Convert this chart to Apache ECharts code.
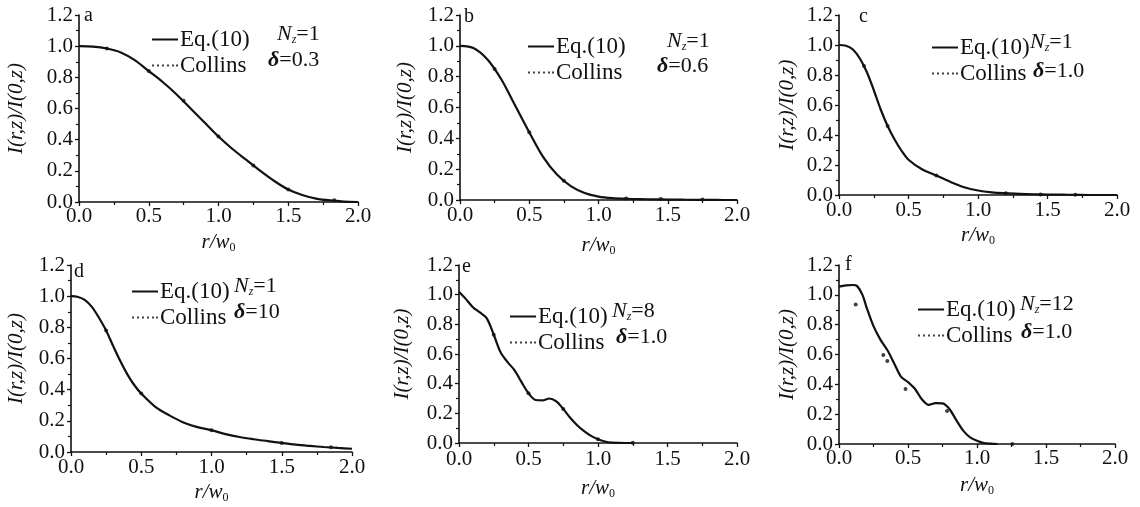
<!DOCTYPE html>
<html>
<head>
<meta charset="utf-8">
<script src="https://cdn.jsdelivr.net/npm/echarts@6/dist/echarts.min.js"></script>
<style>html,body{margin:0;padding:0;background:#fff;}#c{width:1140px;height:507px;}</style>
</head>
<body>
<div id="c"></div>
<script>
// ---- data ----
var panelLetters = ['a', 'b', 'c', 'd', 'e', 'f'];
var nzValues = ['1', '1', '1', '1', '8', '12'];
var deltaValues = ['0.3', '0.6', '1.0', '10', '1.0', '1.0'];
var xTicks = [0, 0.5, 1.0, 1.5, 2.0];
var yTicks = [0, 0.2, 0.4, 0.6, 0.8, 1.0, 1.2];

var rA = [0,0.1,0.2,0.3,0.4,0.5,0.6,0.7,0.8,0.9,1.0,1.1,1.2,1.3,1.4,1.5,1.6,1.7,1.8,1.9,2.0];
var eqA = [1.0,0.997,0.985,0.96,0.91,0.84,0.77,0.69,0.60,0.51,0.42,0.34,0.27,0.20,0.135,0.08,0.045,0.022,0.01,0.003,0.0];
var colA = [[0.2,0.985],[0.5,0.84],[0.75,0.65],[1.0,0.42],[1.25,0.235],[1.5,0.08],[1.83,0.012]];

var rB = [0,0.1,0.2,0.3,0.4,0.5,0.6,0.7,0.8,0.9,1.0,1.1,1.2,1.3,1.4,1.5,1.6,1.7,1.8,1.9,2.0];
var eqB = [1.0,0.985,0.91,0.78,0.61,0.44,0.28,0.165,0.09,0.045,0.022,0.012,0.008,0.006,0.004,0.003,0.002,0.001,0.001,0.0,0.0];
var colB = [[0.25,0.85],[0.5,0.44],[0.75,0.125],[1.2,0.01],[1.45,0.006],[1.75,0.003]];

var rC = [0,0.05,0.1,0.15,0.2,0.25,0.3,0.35,0.4,0.45,0.5,0.6,0.7,0.8,0.9,1.0,1.1,1.2,1.3,1.4,1.5,1.6,1.7,1.8,2.0];
var eqC = [1.0,0.995,0.97,0.91,0.82,0.70,0.57,0.46,0.37,0.295,0.235,0.17,0.13,0.088,0.052,0.03,0.018,0.012,0.008,0.005,0.003,0.002,0.001,0.0,0.0];
var colC = [[0.18,0.86],[0.35,0.46],[0.7,0.13],[1.2,0.012],[1.45,0.004],[1.7,0.002]];

var rD = [0,0.05,0.1,0.15,0.2,0.25,0.3,0.35,0.4,0.45,0.5,0.6,0.7,0.8,0.9,1.0,1.1,1.2,1.3,1.4,1.5,1.6,1.7,1.8,1.9,2.0];
var eqD = [1.0,0.995,0.975,0.93,0.86,0.78,0.68,0.585,0.50,0.43,0.375,0.29,0.235,0.19,0.16,0.14,0.115,0.096,0.082,0.07,0.058,0.047,0.039,0.032,0.026,0.021];
var colD = [[0.25,0.78],[0.5,0.375],[1.0,0.14],[1.5,0.058],[1.85,0.03]];

var rE = [0,0.05,0.1,0.15,0.2,0.25,0.3,0.35,0.4,0.45,0.5,0.55,0.6,0.65,0.7,0.75,0.8,0.85,0.9,0.95,1.0,1.05,1.1,1.2,1.25];
var eqE = [1.02,0.97,0.915,0.88,0.84,0.73,0.61,0.545,0.49,0.41,0.335,0.29,0.287,0.30,0.28,0.23,0.17,0.12,0.08,0.048,0.025,0.01,0.003,0.0,0.0];
var colE = [[0.25,0.73],[0.5,0.335],[0.75,0.23],[1.0,0.025],[1.25,0.002]];

var rF = [0,0.05,0.1,0.13,0.17,0.2,0.25,0.3,0.35,0.4,0.45,0.5,0.55,0.6,0.65,0.7,0.75,0.8,0.85,0.9,0.95,1.0,1.05,1.1,1.15];
var eqF = [1.055,1.064,1.066,1.06,1.0,0.915,0.79,0.70,0.63,0.54,0.45,0.415,0.37,0.30,0.262,0.274,0.272,0.235,0.16,0.09,0.045,0.022,0.007,0.002,0.0];
var colF = [[0.121,0.936],[0.321,0.597],[0.35,0.556],[0.482,0.369],[0.783,0.221],[1.256,0.0]];

var rList = [rA, rB, rC, rD, rE, rF];
var eqList = [eqA, eqB, eqC, eqD, eqE, eqF];
var colList = [colA, colB, colC, colD, colE, colF];

// ---- layout ----
var grids = [
  {left: 79, top: 15, width: 279, height: 187},
  {left: 460, top: 15, width: 277, height: 185},
  {left: 839, top: 15, width: 278, height: 180},
  {left: 71, top: 265, width: 281, height: 187},
  {left: 459, top: 265, width: 278, height: 178},
  {left: 839, top: 265, width: 276, height: 179}
];
var yNameGap = [52, 44, 41, 44, 46, 41];
var xNameGap = [28, 33, 28, 28, 33, 29];
var xLabelMargin = [4, 5, 5, 5, 6, 4];
// legend / annotation anchors: [legendLeft, row1Y, annotLeft, row2AnnotLeft, row2Y]
var legendPos = [
  [147, 35, 277, 268, 61],
  [523, 42, 667, 657, 67],
  [927, 43, 1030, 1033, 72],
  [127, 287, 234, 234, 313],
  [505, 312, 612, 616, 338],
  [913, 305, 1020, 1021, 333]
];
var letterPos = [[84, 16], [464, 17], [859, 17], [74, 272], [462, 267], [845, 265]];

var SERIF = '"Liberation Serif","Times New Roman",serif';
var black = '#111';

var lineIcon = 'path://M0,0H26V2H0Z';
var dotIcon = 'path://M0,0H2V2H0Z M5,0H7V2H5Z M10,0H12V2H10Z M15,0H17V2H15Z M20,0H22V2H20Z M24,0H26V2H24Z';

var option = {
  backgroundColor: '#fff',
  animation: false,
  grid: [], xAxis: [], yAxis: [], series: [], legend: [], graphic: []
};

for (var i = 0; i < 6; i++) {
  option.grid.push(Object.assign({containLabel: false}, grids[i]));
  option.xAxis.push({
    type: 'value', gridIndex: i, min: xTicks[0], max: xTicks[xTicks.length - 1], interval: 0.5,
    name: '{i|r/w}{s|0}', nameLocation: 'middle', nameGap: xNameGap[i],
    nameTextStyle: {
      rich: {
        i: {fontFamily: SERIF, fontStyle: 'italic', fontSize: 21, color: black},
        s: {fontFamily: SERIF, fontSize: 12, color: black, padding: [12, 0, 0, 0]}
      }
    },
    axisLine: {show: true, onZero: false, lineStyle: {color: black, width: 1.6}},
    axisTick: {show: true, length: 4, lineStyle: {color: black, width: 1.3}},
    minorTick: {show: true, splitNumber: 2, length: 3, lineStyle: {color: black, width: 1.2}},
    splitLine: {show: false},
    axisLabel: {fontFamily: SERIF, fontSize: 21, color: black, margin: xLabelMargin[i],
      formatter: function (v) { return v.toFixed(1); }}
  });
  option.yAxis.push({
    type: 'value', gridIndex: i, min: yTicks[0], max: yTicks[yTicks.length - 1], interval: 0.2,
    name: 'I(r,z)/I(0,z)', nameLocation: 'middle', nameGap: yNameGap[i],
    nameTextStyle: {fontFamily: SERIF, fontStyle: 'italic', fontSize: 21, color: black},
    axisLine: {show: true, onZero: false, lineStyle: {color: black, width: 1.6}},
    axisTick: {show: true, length: 4, lineStyle: {color: black, width: 1.3}},
    minorTick: {show: true, splitNumber: 2, length: 3, lineStyle: {color: black, width: 1.2}},
    splitLine: {show: false},
    axisLabel: {fontFamily: SERIF, fontSize: 21, color: black, margin: 6,
      formatter: function (v) { return v.toFixed(1); }}
  });
  var pts = rList[i].map(function (r, k) { return [r, eqList[i][k]]; });
  option.series.push({
    name: 'Eq.(10)', type: 'line', xAxisIndex: i, yAxisIndex: i, data: pts,
    smooth: 0.3, showSymbol: false, symbol: 'none',
    lineStyle: {color: black, width: 2.2}, itemStyle: {color: black}
  });
  option.series.push({
    name: 'Collins', type: 'scatter', xAxisIndex: i, yAxisIndex: i, data: colList[i],
    symbol: 'circle', symbolSize: 4, itemStyle: {color: black}
  });
  var lp = legendPos[i];
  option.legend.push({
    orient: 'vertical', left: lp[0], top: lp[1] - 12, itemGap: 3,
    itemWidth: 26, itemHeight: 2, selectedMode: false,
    data: [{name: 'Eq.(10)', icon: lineIcon}, {name: 'Collins', icon: dotIcon}],
    itemStyle: {color: black},
    textStyle: {fontFamily: SERIF, fontSize: 23, color: black, lineHeight: 23, padding: [0, 0, 0, -3]}
  });
  option.graphic.push({
    type: 'text', left: lp[2], top: lp[1] - 12,
    style: {
      text: '{i|N}{s|z}{n|=' + nzValues[i] + '}',
      rich: {
        i: {fontFamily: SERIF, fontStyle: 'italic', fontSize: 22, fill: black},
        s: {fontFamily: SERIF, fontStyle: 'italic', fontSize: 12, fill: black, padding: [12, 0, 0, 0]},
        n: {fontFamily: SERIF, fontSize: 22, fill: black}
      }
    }
  });
  option.graphic.push({
    type: 'text', left: lp[3], top: lp[4] - 12,
    style: {
      text: '{d|δ}{n|=' + deltaValues[i] + '}',
      rich: {
        d: {fontFamily: SERIF, fontStyle: 'italic', fontWeight: 'bold', fontSize: 22, fill: black},
        n: {fontFamily: SERIF, fontSize: 22, fill: black}
      }
    }
  });
  option.graphic.push({
    type: 'text', left: letterPos[i][0], top: letterPos[i][1] - 10,
    style: {text: panelLetters[i], font: '20px ' + SERIF, fill: black}
  });
}

var chart = echarts.init(document.getElementById('c'), null, {renderer: 'canvas'});
chart.setOption(option);
</script>
</body>
</html>
